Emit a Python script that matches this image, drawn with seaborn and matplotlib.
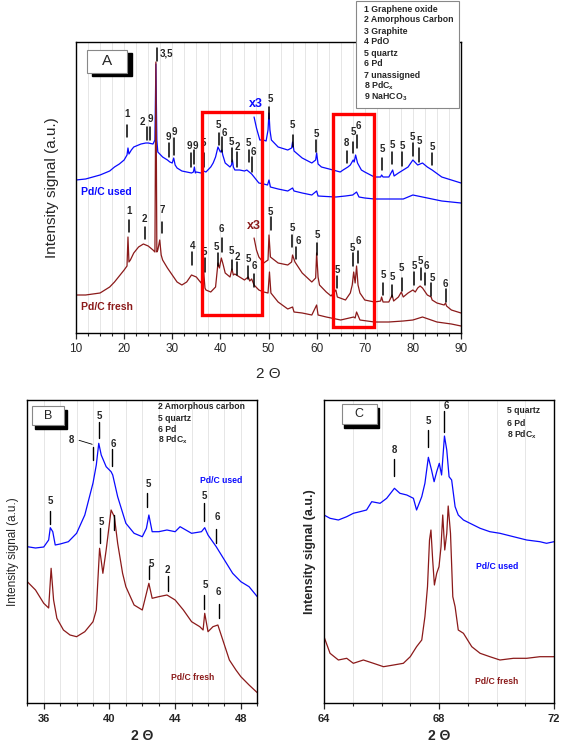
import matplotlib
matplotlib.use("Agg")
import matplotlib.pyplot as plt
import seaborn as sns
from matplotlib.patches import Rectangle
from matplotlib.ticker import MultipleLocator, NullLocator

sns.set_style("ticks")
plt.rcParams["font.family"] = ["Liberation Sans", "DejaVu Sans"]
plt.rcParams["mathtext.fontset"] = "custom"
plt.rcParams["mathtext.rm"] = "Liberation Sans"
plt.rcParams["mathtext.bf"] = "Liberation Sans:bold"

BLUE = "#0a0aff"
DRED = "#8b1a1a"

# ---------------- panel A : full scans (heights in arbitrary units) ----------------
used_x = [10, 12, 15, 17, 18, 19, 20, 20.6, 20.8, 21.0, 21.5, 22, 23, 23.5, 24.5, 25, 25.5, 26, 26.4,
          26.6, 26.8, 27, 28, 29, 29.5, 30, 30.3, 30.6, 31, 32, 33, 34, 34.4, 34.6, 34.8, 35, 36, 36.5,
          37, 38, 38.5, 39, 39.5, 40, 40.3, 40.5, 41, 42, 42.3, 42.5, 42.7, 43, 44, 45, 45.5, 46, 46.5,
          47, 48, 49, 49.8, 50.1, 50.4, 52, 54, 55, 55.3, 57, 59, 60, 60.3, 62, 64, 66, 67.5, 68.3,
          68.8, 70, 72, 74, 76, 78, 80, 81, 82, 84, 86, 88, 90]
used_y = [153, 154, 158, 162, 166, 169, 173, 178, 185, 179, 183, 186, 188, 189, 190, 190, 189.5, 189, 193,
          269, 193, 181, 176, 173, 171, 170, 175, 168, 165, 162, 161, 160, 161, 166, 160, 161, 160, 162,
          161, 166, 170, 176, 186, 181, 183, 178, 170, 166, 168, 173, 166, 163, 163, 162, 163, 161, 159,
          156, 150, 149, 148, 153, 146, 144, 142, 145, 142, 140, 138, 142, 137, 136.5, 136, 137, 138, 141,
          136, 135, 134, 134, 134, 134, 138, 137, 136, 134, 132, 131, 130]

used3_x = [47, 47.5, 48.2, 48.9, 49.5, 49.9, 50.1, 50.3, 50.6, 52, 54, 54.8, 55, 55.3, 57, 59, 59.8, 60,
           60.3, 61, 63.4, 64.9, 65.5, 66.5, 67, 67.6, 67.8, 68.1, 68.5, 69.3, 70, 72, 73.3, 73.5, 73.8,
           75, 75.8, 76.1, 77, 78, 79, 80, 81, 82, 83, 84, 86, 88, 90]
used3_y = [216, 205, 193, 193, 192, 203, 220, 203, 193, 186, 183, 185, 191, 182, 175, 170, 173, 180,
           169, 166, 163, 161, 163, 166, 168, 173, 171, 178, 170, 163, 161, 156, 156, 158, 156,
           156, 163, 157, 160, 163, 166, 173, 168, 170, 166, 163, 156, 153, 150]

fresh_x = [10, 12, 15, 17, 18, 19, 20, 20.6, 20.8, 21.0, 21.3, 22, 23, 24, 25, 26, 26.4, 26.6, 26.8, 27,
           27.4, 27.7, 28, 29, 30, 31, 32, 33, 34, 35, 36, 36.5, 36.8, 37, 38, 39, 39.5, 39.8, 40.2, 40.6,
           41, 42, 42.4, 42.7, 43, 44, 45, 45.8, 46.1, 46.5, 47, 48, 49, 49.9, 50.2, 50.5, 52, 54, 55,
           55.3, 57, 59, 60, 60.3, 62, 65, 67.7, 68, 68.3, 69, 72, 75, 78, 80, 82, 85, 88, 90]
fresh_y = [38, 38, 40, 46, 51, 57, 63, 67, 96, 71, 73, 80, 86, 89, 87, 83, 81, 271, 81, 83,
           93, 78, 73, 65, 58, 51, 48, 51, 58, 56, 50, 63, 45, 43, 41, 46, 70, 65, 75, 68,
           60, 56, 64, 58, 59, 56, 53, 56, 52, 54, 48, 43, 41, 40, 61, 40, 31, 24, 26,
           21, 20, 18, 28, 18, 16, 13, 16, 15, 21, 13, 11, 11, 12, 13, 16, 11, 9, 7]

fresh3_x = [47, 47.5, 48, 49, 49.9, 50.1, 50.4, 52, 54, 54.8, 55, 55.5, 57, 59, 59.8, 60, 60.3, 60.6,
            62, 63, 64, 64.3, 66, 67, 67.4, 67.7, 68, 68.3, 68.6, 69, 70, 72, 73.3, 73.5, 73.8, 75,
            75.7, 76, 77, 77.6, 78, 79, 80, 80.5, 81, 81.5, 82, 83, 83.8, 84, 85, 86.5, 86.8, 87, 88, 90]
fresh3_y = [95, 83, 76, 70, 73, 98, 76, 70, 68, 71, 78, 71, 60, 51, 55, 80, 56, 48,
            41, 37, 43, 36, 33, 40, 48, 61, 50, 67, 48, 40, 33, 31, 32, 36, 31, 31,
            38, 32, 36, 41, 36, 40, 43, 41, 45, 47, 45, 38, 36, 33, 30, 28, 30, 27, 23, 20]

# peak marks: (tick x, tick bottom, tick top, label, label x, label y)
marks_a = [
    (20.66, 196, 208, "1", 20.66, 219), (24.75, 193, 206, "2", 23.7, 211), (25.44, 193, 206, "9", 25.4, 214),
    (26.9, 272, 285, "3,5", 28.9, 280), (29.32, 176, 190, "9", 29.1, 196), (30.3, 178, 195, "9", 30.4, 201),
    (33.83, 166, 180, "9", 33.5, 187), (34.58, 169, 183, "9", 34.9, 187), (36.53, 166, 180, "5", 36.53, 190),
    (39.65, 188, 200, "5", 39.5, 208), (40.4, 181, 196, "6", 40.75, 200), (42.48, 171, 185, "5", 42.35, 191),
    (43.39, 166, 181, "2", 43.5, 186), (45.95, 171, 183, "5", 45.8, 190), (46.63, 161, 176, "6", 46.84, 181),
    (50.17, 214, 226, "5", 50.3, 234), (55.03, 186, 198, "5", 55.03, 208), (59.87, 181, 193, "5", 59.87, 199),
    (66.38, 170, 182, "8", 66.1, 190), (67.62, 180, 191, "5", 67.62, 201), (68.45, 185, 198, "6", 68.6, 207),
    (73.65, 163, 175, "5", 73.6, 184), (75.66, 169, 181, "5", 75.66, 188), (77.74, 167, 181, "5", 77.74, 187),
    (79.96, 177, 190, "5", 79.96, 196), (81.21, 171, 185, "5", 81.3, 192), (83.97, 168, 180, "5", 83.97, 186),
    (21.01, 101, 113, "1", 21.0, 122), (24.28, 94, 106, "2", 24.3, 114), (27.87, 100, 111, "7", 27.87, 123),
    (34.1, 68, 81, "4", 34.17, 87), (36.74, 61, 75, "5", 36.74, 81), (39.44, 67, 80, "5", 39.24, 86),
    (40.28, 81, 95, "6", 40.13, 104), (42.48, 63, 73, "5", 42.35, 82), (43.52, 58, 71, "2", 43.6, 76),
    (45.8, 54, 67, "5", 45.8, 74), (46.92, 46, 59, "6", 47.05, 67), (50.46, 103, 116, "5", 50.46, 121),
    (54.88, 86, 98, "5", 55.0, 105), (55.65, 74, 86, "6", 56.13, 92), (60.14, 78, 90, "5", 60.2, 98),
    (64.23, 45, 57, "5", 64.23, 63), (67.62, 67, 80, "5", 67.5, 85), (68.53, 70, 82, "6", 68.66, 92),
    (73.85, 38, 50, "5", 73.85, 58), (75.66, 36, 48, "5", 75.8, 56), (77.68, 42, 55, "5", 77.68, 65),
    (80.23, 48, 61, "5", 80.3, 67), (81.75, 53, 65, "5", 81.6, 72), (82.46, 48, 60, "6", 82.87, 67),
    (83.83, 37, 50, "5", 83.97, 55), (86.82, 31, 44, "6", 86.68, 49),
]

legend_a = ["1 Graphene oxide", "2 Amorphous Carbon", "3 Graphite", "4 PdO", "5 quartz", "6 Pd",
            "7 unassigned", r"8 PdC$_\mathbf{x}$", r"9 NaHCO$_\mathbf{3}$"]

# ---------------- panel B : 35-49 zoom ----------------
b_used_x = [35, 35.5, 36, 36.3, 36.4, 36.55, 36.7, 37, 37.5, 38, 38.5, 39, 39.2, 39.35, 39.5, 39.8, 40.1,
            40.2, 40.5, 41, 41.5, 42, 42.25, 42.4, 42.6, 43, 43.5, 44, 44.3, 45, 45.6, 45.8, 46, 46.5,
            47, 47.5, 48, 48.5, 49]
b_used_y = [156.6, 155.3, 156.3, 163.3, 175.6, 171.6, 158.3, 159.3, 161.6, 170, 188.3, 220.3, 238.3, 260,
            248.3, 236.6, 231.6, 228.3, 206.6, 180, 170, 166.6, 175, 188.3, 171.6, 171.6, 173.3, 171.6,
            176.6, 170, 171.6, 175.6, 168.3, 156.6, 143.3, 130, 121.6, 116.6, 106.6]
b_fresh_x = [35, 35.5, 36, 36.3, 36.45, 36.6, 36.8, 37.2, 37.6, 38, 38.5, 39, 39.2, 39.4, 39.6, 39.8, 40.1,
             40.3, 40.5, 40.8, 41, 41.5, 42, 42.2, 42.4, 42.6, 43, 43.5, 44, 44.5, 45, 45.5, 45.7, 45.8,
             46, 46.3, 46.6, 46.9, 47.3, 47.7, 48, 48.5, 49]
b_fresh_y = [121.6, 113.3, 100, 95.3, 135, 103.3, 85, 73.3, 68.3, 66.6, 71.6, 81.6, 93.3, 155, 130, 153.3,
             193.3, 186.6, 160, 130, 116.6, 98.3, 93.3, 106.6, 120, 105, 106.6, 108.3, 103.3, 93.3, 81.6,
             76.6, 73.3, 90, 71.6, 76.6, 78.3, 63.3, 43.3, 33.3, 26.6, 18.3, 10.6]
marks_b = [
    (36.4, 179, 192, "5", 36.38, 202), (39.0, 243, 256, "8", 37.7, 263), (39.35, 265, 281, "5", 39.38, 287),
    (40.15, 237, 254, "6", 40.23, 259), (42.29, 196, 210, "5", 42.36, 219), (45.75, 182, 200, "5", 45.75, 207),
    (46.48, 160, 174, "6", 46.59, 186), (39.44, 160, 175, "5", 39.49, 181), (40.3, 173, 188, "", 40.3, 0),
    (42.43, 124, 137, "5", 42.53, 139), (43.55, 112, 127, "2", 43.55, 133), (45.77, 94, 108, "5", 45.85, 118),
    (46.65, 85, 99, "6", 46.65, 111),
]
legend_b = ["2 Amorphous carbon", "5 quartz", "6 Pd", r"8 PdC$_\mathbf{x}$"]

# ---------------- panel C : 64-72 zoom ----------------
c_used_x = [64.0, 64.21, 64.5, 64.79, 65.02, 65.25, 65.48, 65.66, 65.95, 66.18, 66.45, 66.64, 66.88, 67.11,
            67.22, 67.4, 67.51, 67.63, 67.74, 67.83, 67.92, 68.01, 68.09, 68.19, 68.27, 68.35, 68.44, 68.56,
            68.67, 68.85, 69.08, 69.43, 69.77, 70.12, 70.59, 71.05, 71.51, 71.74, 72.0]
c_used_y = [188.3, 185, 183.3, 186.6, 190, 191.6, 193.3, 201.6, 200, 205, 215, 210, 208.3, 205,
            193.3, 206.6, 220, 246, 233.3, 221.6, 231.6, 240, 228.3, 267.3, 253.3, 226.6, 223.3, 196.6,
            188.3, 183.3, 180, 175, 171.6, 170, 166.6, 163.3, 161.6, 160, 161.6]
c_fresh_x = [64.0, 64.21, 64.5, 64.79, 65.02, 65.37, 65.72, 66.07, 66.42, 66.76, 67.0, 67.22, 67.4, 67.51,
             67.6, 67.67, 67.72, 67.78, 67.84, 67.92, 68.0, 68.07, 68.13, 68.2, 68.27, 68.32, 68.4, 68.48,
             68.56, 68.67, 68.85, 69.14, 69.43, 69.77, 70.12, 70.59, 71.05, 71.51, 72.0]
c_fresh_y = [66.6, 50, 43.3, 45, 40, 43.3, 40, 36.6, 38.3, 40, 46.6, 56.6, 63.3, 86.6,
             116.6, 163.3, 173.3, 143.3, 118.3, 130, 136.6, 156.6, 188.3, 153.3, 170, 197.3, 170, 106.6,
             96.6, 73.3, 70, 56.6, 50, 46.6, 43.3, 45, 45, 46.6, 46.6]
marks_c = [(66.45, 227, 244, "8", 66.45, 253), (67.63, 256, 273, "5", 67.63, 282),
           (68.19, 271, 292, "6", 68.24, 297)]
legend_c = ["5 quartz", "6 Pd", r"8 PdC$_\mathbf{x}$"]

W, H = 561, 746
fig = plt.figure(figsize=(W / 100, H / 100), dpi=100)


def px_rect(x0, y0, x1, y1):
    return [x0 / W, 1 - y1 / H, (x1 - x0) / W, (y1 - y0) / H]


def style_axes(ax, xlim, ylim, major, minor, bold):
    ax.set_xlim(*xlim)
    ax.set_ylim(*ylim)
    ax.xaxis.set_major_locator(MultipleLocator(major))
    ax.xaxis.set_minor_locator(MultipleLocator(minor))
    ax.yaxis.set_major_locator(NullLocator())
    ax.yaxis.set_minor_locator(NullLocator())
    ax.grid(False)
    ax.grid(True, axis="x", which="both", color="#e2e2e2", lw=0.6)
    ax.set_axisbelow(True)
    ax.tick_params(axis="x", which="major", direction="out", length=4.5, width=0.9,
                   labelsize=8.5 if not bold else 8, pad=3)
    ax.tick_params(axis="x", which="minor", direction="out", length=2.5, width=0.8)
    for s in ax.spines.values():
        s.set_linewidth(1.0)
        s.set_color("black")
        s.set_visible(True)
    if bold:
        for t in ax.get_xticklabels():
            t.set_fontweight("bold")
    ax.set_xlabel("")
    ax.set_ylabel("")


def shadow_box(ax, x0, y0, x1, y1, letter, size):
    ax.add_patch(Rectangle((x0 + 0.012, y0 - 0.012), x1 - x0, y1 - y0, transform=ax.transAxes,
                           facecolor="black", edgecolor="black", zorder=5))
    ax.add_patch(Rectangle((x0, y0), x1 - x0, y1 - y0, transform=ax.transAxes,
                           facecolor="white", edgecolor="#888888", lw=0.8, zorder=6))
    ax.text((x0 + x1) / 2, (y0 + y1) / 2, letter, transform=ax.transAxes, ha="center",
            va="center", fontsize=size, zorder=7)


def draw_marks(ax, marks, size, lw):
    for x, y0, y1, lab, tx, ty in marks:
        ax.plot([x, x], [y0, y1], color="black", lw=lw, zorder=4)
        if lab:
            ax.text(tx, ty, lab, ha="center", va="center", fontsize=size,
                    fontweight="bold", zorder=4)


# ---- A ----
axA = fig.add_axes(px_rect(76, 42, 461, 333))
sns.lineplot(x=used_x, y=used_y, ax=axA, color=BLUE, lw=0.9, estimator=None, sort=False)
sns.lineplot(x=used3_x, y=used3_y, ax=axA, color=BLUE, lw=0.9, estimator=None, sort=False)
sns.lineplot(x=fresh_x, y=fresh_y, ax=axA, color=DRED, lw=0.9, estimator=None, sort=False)
sns.lineplot(x=fresh3_x, y=fresh3_y, ax=axA, color=DRED, lw=0.9, estimator=None, sort=False)
style_axes(axA, (10, 90), (0, 291), 10, 2.5, False)
draw_marks(axA, marks_a, 7, 1.1)
for x0, x1, y0, y1 in [(36.1, 48.6, 18, 221), (63.5, 71.9, 6, 219)]:
    axA.add_patch(Rectangle((x0, y0), x1 - x0, y1 - y0, fill=False, edgecolor="#ff0000",
                            lw=2.4, zorder=5))
axA.text(47.4, 229, "x3", color=BLUE, fontsize=9, fontweight="bold", ha="center", va="center")
axA.text(47.0, 107, "x3", color=DRED, fontsize=9, fontweight="bold", ha="center", va="center")
axA.text(11.0, 141, "Pd/C used", color=BLUE, fontsize=7.5, fontweight="bold", ha="left", va="center")
axA.text(11.0, 26, "Pd/C fresh", color=DRED, fontsize=7.5, fontweight="bold", ha="left", va="center")
shadow_box(axA, 0.029, 0.894, 0.1325, 0.9725, "A", 11)
axA.set_xlabel("2 \u0398", fontsize=11, labelpad=8)
axA.set_ylabel("Intensity signal (a.u.)", fontsize=11, labelpad=12)

fig.patches.append(Rectangle((356 / W, 1 - 108 / H), 103 / W, 107 / H, transform=fig.transFigure,
                             facecolor="white", edgecolor="#888888", lw=0.8, zorder=10))
for i, s in enumerate(legend_a):
    fig.text(364 / W, 1 - (9 + 11 * i) / H, s, fontsize=6.3, fontweight="bold", ha="left",
             va="center", zorder=11)

# ---- B ----
axB = fig.add_axes(px_rect(27.3, 400, 257.3, 703.3))
sns.lineplot(x=b_used_x, y=b_used_y, ax=axB, color=BLUE, lw=0.9, estimator=None, sort=False)
sns.lineplot(x=b_fresh_x, y=b_fresh_y, ax=axB, color=DRED, lw=0.9, estimator=None, sort=False)
style_axes(axB, (35, 49), (0, 303.3), 4, 1, True)
draw_marks(axB, marks_b, 7, 1.0)
axB.plot([38.15, 38.95], [263, 259], color="black", lw=0.6)
axB.text(46.82, 223, "Pd/C used", color=BLUE, fontsize=6.2, fontweight="bold", ha="center", va="center")
axB.text(45.09, 26, "Pd/C fresh", color=DRED, fontsize=6.2, fontweight="bold", ha="center", va="center")
for i, s in enumerate(legend_b):
    axB.text(0.568, 0.977 - 0.0365 * i, s, transform=axB.transAxes, fontsize=6.2,
             fontweight="bold", ha="left", va="center")
shadow_box(axB, 0.0204, 0.9176, 0.1596, 0.98, "B", 9)
axB.set_xlabel("2 \u0398", fontsize=10, fontweight="bold", labelpad=4)
axB.set_ylabel("Intensity signal (a.u.)", fontsize=8.5, labelpad=6)

# ---- C ----
axC = fig.add_axes(px_rect(324, 400, 554, 703.3))
sns.lineplot(x=c_used_x, y=c_used_y, ax=axC, color=BLUE, lw=0.9, estimator=None, sort=False)
sns.lineplot(x=c_fresh_x, y=c_fresh_y, ax=axC, color=DRED, lw=0.9, estimator=None, sort=False)
style_axes(axC, (64, 72), (0, 303.3), 4, 1, True)
draw_marks(axC, marks_c, 7, 1.0)
axC.text(70.03, 137, "Pd/C used", color=BLUE, fontsize=6.2, fontweight="bold", ha="center", va="center")
axC.text(70.0, 22, "Pd/C fresh", color=DRED, fontsize=6.2, fontweight="bold", ha="center", va="center")
for i, s in enumerate(legend_c):
    axC.text(0.794, 0.964 - 0.04 * i, s, transform=axC.transAxes, fontsize=6.2,
             fontweight="bold", ha="left", va="center")
shadow_box(axC, 0.077, 0.921, 0.229, 0.987, "C", 9)
axC.set_xlabel("2 \u0398", fontsize=10, fontweight="bold", labelpad=4)
axC.set_ylabel("Intensity signal (a.u.)", fontsize=9, fontweight="bold", labelpad=6)

fig.savefig("out.png", dpi=100)
